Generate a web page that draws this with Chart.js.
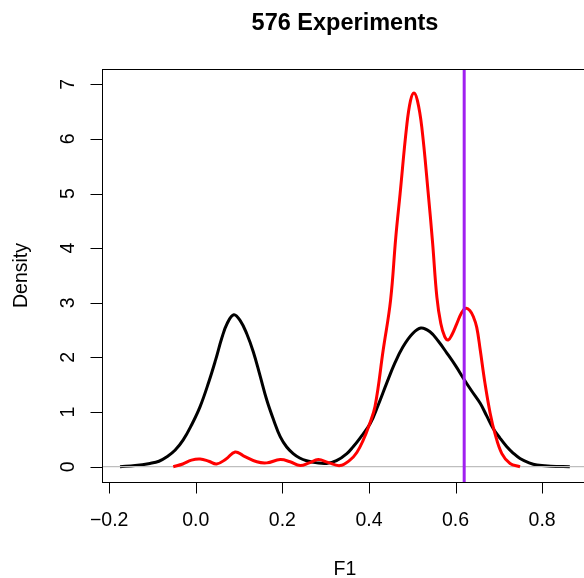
<!DOCTYPE html>
<html>
<head>
<meta charset="utf-8">
<script src="https://cdn.jsdelivr.net/npm/chart.js@4/dist/chart.umd.min.js"></script>
<style>
  html, body { margin: 0; padding: 0; background: #fff; }
  #wrap { width: 584px; height: 578px; overflow: hidden; position: relative; }
  canvas { display: block; }
</style>
</head>
<body>
<div id="wrap"><canvas id="c" width="600" height="578"></canvas></div>
<script>
// ---- data ----
const titleText = "576 Experiments";
const xLabel = "F1";
const yLabel = "Density";

const xTicks = [-0.2, 0.0, 0.2, 0.4, 0.6, 0.8];
const xTickLabels = ["\u22120.2", "0.0", "0.2", "0.4", "0.6", "0.8"];
const yTicks = [0, 1, 2, 3, 4, 5, 6, 7];
const yTickLabels = ["0", "1", "2", "3", "4", "5", "6", "7"];

const xRange = [-0.2166, 0.906];
const yRange = [-0.28, 7.28];

// black density (all experiments)
const blackX = [-0.175, -0.14, -0.106, -0.085, -0.067, -0.048, -0.029, -0.01, 0.01, 0.03, 0.046, 0.06, 0.073, 0.088, 0.103, 0.118, 0.133, 0.148, 0.164, 0.18, 0.195, 0.21, 0.225, 0.24, 0.256, 0.28, 0.302, 0.325, 0.349, 0.364, 0.379, 0.403, 0.421, 0.441, 0.46, 0.479, 0.5, 0.52, 0.541, 0.56, 0.58, 0.6, 0.618, 0.637, 0.657, 0.672, 0.687, 0.703, 0.718, 0.733, 0.749, 0.77, 0.788, 0.82, 0.864];
const blackY = [0.0, 0.02, 0.06, 0.1, 0.18, 0.3, 0.49, 0.76, 1.1, 1.55, 1.96, 2.35, 2.63, 2.78, 2.67, 2.43, 2.1, 1.68, 1.22, 0.85, 0.55, 0.36, 0.24, 0.16, 0.11, 0.07, 0.06, 0.11, 0.24, 0.37, 0.52, 0.79, 1.12, 1.53, 1.9, 2.2, 2.43, 2.54, 2.47, 2.3, 2.08, 1.85, 1.62, 1.39, 1.16, 0.93, 0.7, 0.52, 0.37, 0.25, 0.15, 0.07, 0.03, 0.01, 0.0];

// red density (subset)
const redX = [-0.052, -0.03, -0.01, 0.01, 0.03, 0.048, 0.07, 0.091, 0.11, 0.141, 0.164, 0.195, 0.218, 0.241, 0.262, 0.283, 0.305, 0.333, 0.356, 0.372, 0.387, 0.4, 0.414, 0.433, 0.45, 0.462, 0.472, 0.487, 0.496, 0.504, 0.512, 0.522, 0.537, 0.547, 0.557, 0.566, 0.575, 0.583, 0.592, 0.603, 0.614, 0.624, 0.633, 0.641, 0.649, 0.657, 0.668, 0.68, 0.691, 0.707, 0.726, 0.749];
const redY = [0.0, 0.05, 0.12, 0.14, 0.1, 0.05, 0.14, 0.27, 0.2, 0.09, 0.07, 0.13, 0.09, 0.02, 0.07, 0.13, 0.08, 0.02, 0.12, 0.26, 0.49, 0.75, 1.1, 2.14, 3.05, 4.2, 5.0, 6.22, 6.7, 6.84, 6.7, 6.22, 5.0, 4.1, 3.1, 2.62, 2.38, 2.32, 2.42, 2.62, 2.82, 2.9, 2.86, 2.75, 2.55, 2.14, 1.53, 0.98, 0.61, 0.24, 0.06, 0.0];

const markerX = 0.62;   // purple vertical line
const zeroY = 0;        // gray reference line

// ---- build chart ----
const pts = (xs, ys) => xs.map((x, i) => ({ x: x, y: ys[i] }));
const FONT = '"Liberation Sans", Arial, Helvetica, sans-serif';

const rAxes = {
  id: 'rAxes',
  afterDatasetsDraw(chart) {
    const ctx = chart.ctx;
    const a = chart.chartArea;
    const xs = chart.scales.x, ys = chart.scales.y;
    ctx.save();
    // box
    ctx.strokeStyle = '#000';
    ctx.lineWidth = 1;
    ctx.strokeRect(Math.round(a.left) + 0.5, Math.round(a.top) + 0.5,
                   Math.round(a.right - a.left), Math.round(a.bottom - a.top));
    // x ticks
    const bottom = Math.round(a.bottom) + 0.5;
    ctx.beginPath();
    xTicks.forEach(v => {
      const px = Math.round(xs.getPixelForValue(v)) + 0.5;
      ctx.moveTo(px, bottom); ctx.lineTo(px, bottom + 11);
    });
    ctx.stroke();
    // y ticks
    const left = Math.round(a.left) + 0.5;
    ctx.beginPath();
    yTicks.forEach(v => {
      const py = Math.round(ys.getPixelForValue(v)) + 0.5;
      ctx.moveTo(left, py); ctx.lineTo(left - 12, py);
    });
    ctx.stroke();
    // x tick labels
    ctx.fillStyle = '#000';
    ctx.font = '19.5px ' + FONT;
    ctx.textAlign = 'center';
    ctx.textBaseline = 'alphabetic';
    xTicks.forEach((v, i) => {
      ctx.fillText(xTickLabels[i], xs.getPixelForValue(v), 526);
    });
    // y tick labels (rotated)
    yTicks.forEach((v, i) => {
      ctx.save();
      ctx.translate(73, ys.getPixelForValue(v));
      ctx.rotate(-Math.PI / 2);
      ctx.textAlign = 'center';
      ctx.textBaseline = 'top';
      ctx.fillText(yTickLabels[i], 0, -14.5);
      ctx.restore();
    });
    // axis titles
    const cx = (a.left + a.right) / 2;
    const cy = (a.top + a.bottom) / 2;
    ctx.textAlign = 'center';
    ctx.textBaseline = 'alphabetic';
    ctx.fillText(xLabel, cx, 574.5);
    ctx.save();
    ctx.translate(27, cy);
    ctx.rotate(-Math.PI / 2);
    ctx.fillText(yLabel, 0, 0);
    ctx.restore();
    // main title
    ctx.font = 'bold 23.5px ' + FONT;
    ctx.fillText(titleText, cx, 30);
    ctx.restore();
  }
};

new Chart(document.getElementById('c'), {
  type: 'line',
  data: {
    datasets: [
      { data: pts(blackX, blackY), borderColor: '#000000', borderWidth: 3, order: 4,
        tension: 0.4, pointRadius: 0, fill: false },
      { data: [{ x: xRange[0], y: zeroY }, { x: xRange[1], y: zeroY }],
        borderColor: '#BEBEBE', borderWidth: 1.2, order: 3, pointRadius: 0, fill: false },
      { data: pts(redX, redY), borderColor: '#FF0000', borderWidth: 3, order: 2,
        tension: 0.4, pointRadius: 0, fill: false },
      { data: [{ x: markerX, y: yRange[0] }, { x: markerX, y: yRange[1] }],
        borderColor: '#A020F0', borderWidth: 3, order: 1, pointRadius: 0, fill: false }
    ]
  },
  options: {
    responsive: false,
    devicePixelRatio: 1,
    animation: false,
    layout: { padding: { left: 102, top: 69, right: 12, bottom: 96 } },
    plugins: { legend: { display: false }, tooltip: { enabled: false }, title: { display: false } },
    scales: {
      x: { type: 'linear', min: xRange[0], max: xRange[1], display: false },
      y: { type: 'linear', min: yRange[0], max: yRange[1], display: false }
    }
  },
  plugins: [rAxes]
});
</script>
</body>
</html>
